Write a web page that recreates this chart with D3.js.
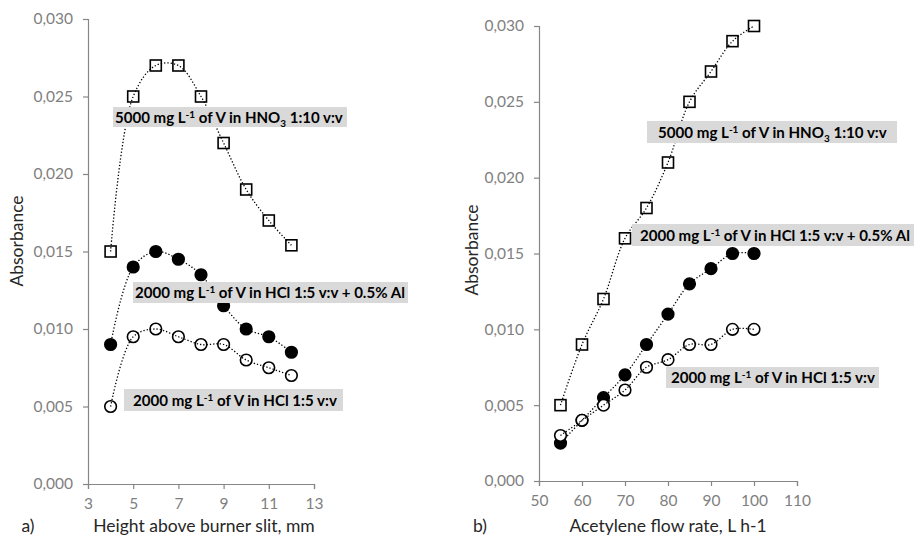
<!DOCTYPE html>
<html><head><meta charset="utf-8">
<script src="https://cdn.jsdelivr.net/npm/d3@7"></script>
<style>
html,body{margin:0;padding:0;background:#fff;}
svg{display:block;font-family:Lato,"Open Sans",sans-serif;}
</style></head>
<body>
<svg id="c" width="914" height="537"></svg>
<script>
// ---------- DATA ----------
const heightX = [4,5,6,7,8,9,10,11,12];
const heightHNO3 = [0.015,0.025,0.027,0.027,0.025,0.022,0.019,0.017,0.0154];
const heightHClAl = [0.009,0.014,0.015,0.0145,0.0135,0.0115,0.010,0.0095,0.0085];
const heightHCl = [0.005,0.0095,0.010,0.0095,0.009,0.009,0.008,0.0075,0.007];

const flowX = [55,60,65,70,75,80,85,90,95,100];
const flowHNO3 = [0.005,0.009,0.012,0.016,0.018,0.021,0.025,0.027,0.029,0.030];
const flowHClAl = [0.0025,0.004,0.0055,0.007,0.009,0.011,0.013,0.014,0.015,0.015];
const flowHCl = [0.003,0.004,0.005,0.006,0.0075,0.008,0.009,0.009,0.010,0.010];

const yTicks = [0,0.005,0.010,0.015,0.020,0.025,0.030];
const heightTicks = [3,5,7,9,11,13];
const flowTicks = [50,60,70,80,90,100,110];

const labelHNO3 = [["5000 mg L",""],["-1","sup"],[" of V in HNO",""],["3","sub"],[" 1:10 v:v",""]];
const labelHClAl = [["2000 mg L",""],["-1","sup"],[" of V in HCl 1:5 v:v + 0.5% Al",""]];
const labelHCl = [["2000 mg L",""],["-1","sup"],[" of V in HCl 1:5 v:v",""]];

// ---------- DRAW ----------
const svg = d3.select("#c");
const fmt = v => d3.format(".3f")(v).replace(".", ",");
const AX = "#868686", TK = "#7f7f7f";

function panel(cfg){
  const g = svg.append("g");
  const x = d3.scaleLinear().domain(cfg.xDom).range(cfg.xRange);
  const y = d3.scaleLinear().domain([0,0.03]).range(cfg.yRange);

  const ya = g.append("g").attr("transform",`translate(${cfg.xRange[0]},0)`)
    .call(d3.axisLeft(y).tickValues(yTicks).tickFormat(fmt).tickSize(5).tickPadding(10));
  const xa = g.append("g").attr("transform",`translate(0,${cfg.yRange[0]})`)
    .call(d3.axisBottom(x).tickValues(cfg.xTicks).tickSize(5).tickPadding(9));
  [ya,xa].forEach(a=>{
    a.selectAll("path,line").attr("stroke",AX).attr("stroke-width",1.2);
    a.selectAll("text").attr("fill",TK).style("font-size","15.5px").style("font-family","Lato,sans-serif");
  });

  g.append("text").attr("x",cfg.xTitleX).attr("y",cfg.xTitleY).attr("text-anchor","middle")
    .attr("fill","#262626").style("font-size","17.5px").text(cfg.xTitle);
  g.append("text").attr("x",cfg.panelX).attr("y",cfg.xTitleY).attr("text-anchor","middle")
    .attr("fill","#262626").style("font-size","17.5px").text(cfg.panelLabel);
  g.append("text").attr("transform",`translate(${cfg.yTitleX},${cfg.yTitleY}) rotate(-90)`)
    .attr("text-anchor","middle").attr("fill","#262626").style("font-size","17.5px").text("Absorbance");

  const line = d3.line().x(d=>x(d[0])).y(d=>y(d[1])).curve(d3.curveCatmullRom.alpha(0.5));

  cfg.series.forEach(s=>{
    const pts = cfg.xs.map((v,i)=>[v,s.vals[i]]);
    const m = g.append("g");
    if(s.type==="square"){
      m.selectAll("rect").data(pts).join("rect")
        .attr("x",d=>x(d[0])-5.5).attr("y",d=>y(d[1])-5.5).attr("width",11).attr("height",11)
        .attr("fill","#fff").attr("stroke","#000").attr("stroke-width",1.6);
    } else {
      m.selectAll("circle").data(pts).join("circle")
        .attr("cx",d=>x(d[0])).attr("cy",d=>y(d[1])).attr("r",5.8)
        .attr("fill",s.type==="filled"?"#000":"#fff").attr("stroke","#000").attr("stroke-width",1.6);
    }
    s.pts = pts;
  });
  cfg.series.forEach(s=>{
    g.append("path").datum(s.pts).attr("d",line).attr("fill","none")
      .attr("stroke","#000").attr("stroke-width",1.3).attr("stroke-dasharray","1.3,2");
  });

  cfg.labels.forEach(L=>{
    const lg = g.append("g");
    lg.append("rect").attr("x",L.bx).attr("y",L.by).attr("width",L.bw).attr("height",L.bh).attr("fill","#d9d9d9");
    const t = lg.append("text").attr("x",L.tx).attr("y",L.by+L.bh/2+5.5).attr("fill","#000")
      .style("font-weight","bold");
    const build = base => {
      t.selectAll("tspan").remove();
      t.style("font-size",base+"px");
      let off = 0;
      L.parts.forEach(p=>{
        const ts = t.append("tspan").text(p[0]);
        let target = 0, fs = null;
        if(p[1]==="sup"){ target = -base*0.33; fs = base*0.66; }
        else if(p[1]==="sub"){ target = base*0.27; fs = base*0.66; }
        ts.attr("dy", target - off);
        off = target;
        if(fs) ts.style("font-size",fs+"px");
      });
    };
    build(15);
    const w = t.node().getComputedTextLength();
    const fsz = Math.min(16.5, 15 * L.tw / w);
    build(fsz);
    const w2 = t.node().getComputedTextLength();
    if(Math.abs(w2 - L.tw) > 1) t.attr("textLength",L.tw).attr("lengthAdjust","spacingAndGlyphs");
  });
}

panel({
  xDom:[3,13], xRange:[88,314], yRange:[484,19], xTicks:heightTicks, xs:heightX,
  xTitle:"Height above burner slit, mm", xTitleX:204, xTitleY:532, panelX:28, panelLabel:"a)",
  yTitleX:23, yTitleY:241,
  series:[{vals:heightHNO3,type:"square"},{vals:heightHClAl,type:"filled"},{vals:heightHCl,type:"open"}],
  labels:[
    {parts:labelHNO3, bx:113, by:107, bw:234, bh:20, tx:115, tw:228},
    {parts:labelHClAl, bx:133, by:282, bw:275, bh:21, tx:135, tw:270},
    {parts:labelHCl, bx:124, by:389, bw:219, bh:22, tx:133, tw:204}
  ]
});

panel({
  xDom:[50,110], xRange:[539,797], yRange:[481,26], xTicks:flowTicks, xs:flowX,
  xTitle:"Acetylene flow rate, L h-1", xTitleX:668, xTitleY:532, panelX:480, panelLabel:"b)",
  yTitleX:478, yTitleY:250,
  series:[{vals:flowHNO3,type:"square"},{vals:flowHClAl,type:"filled"},{vals:flowHCl,type:"open"}],
  labels:[
    {parts:labelHNO3, bx:647, by:121, bw:250, bh:22, tx:658, tw:229},
    {parts:labelHClAl, bx:632, by:224, bw:282, bh:22, tx:640, tw:270},
    {parts:labelHCl, bx:666, by:367, bw:213, bh:21, tx:671, tw:204}
  ]
});
</script>
</body></html>
